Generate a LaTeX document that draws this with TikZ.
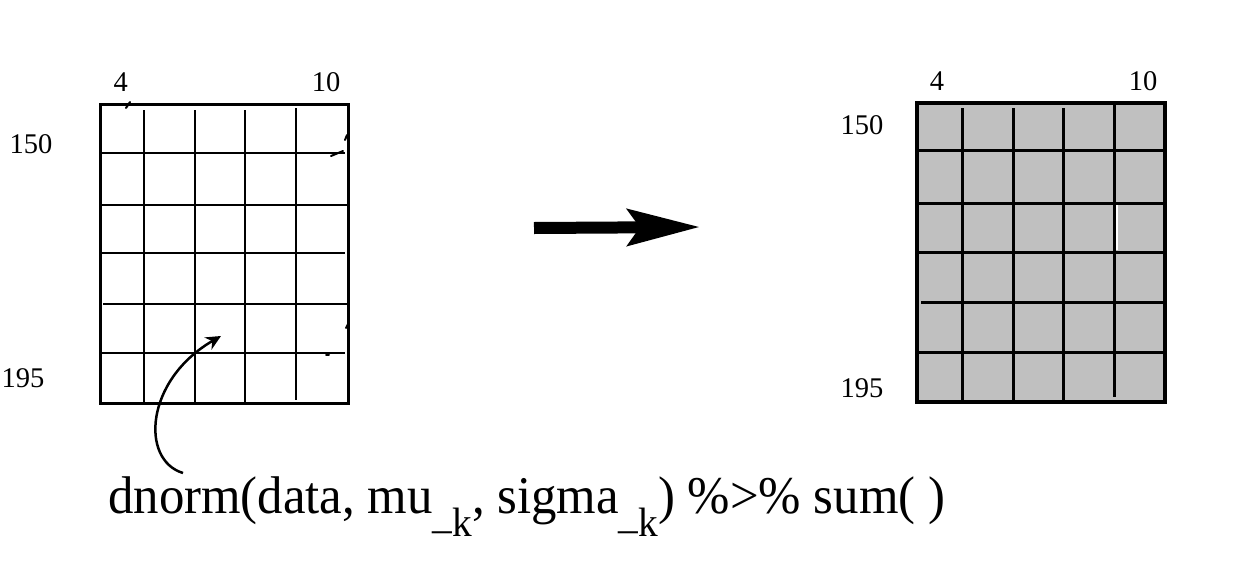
\documentclass[tikz,border=0pt]{standalone}
\usepackage{fontspec}
\setmainfont{Liberation Serif}
\usetikzlibrary{arrows.meta}
\definecolor{cellgray}{RGB}{192,192,192}
\tikzset{
  gridframe/.style={draw=black, line width=3pt},
  gridrule/.style={draw=black, line width=2.5pt},
  ticklabel/.style={font=\fontsize{28.5}{28.5}\selectfont, inner sep=0pt},
  penmark/.style={draw=black, line width=2pt, line cap=round},
  mapsto/.style={draw=black, line width=12pt,
                 -{Stealth[length=72pt, width=36pt, inset=12pt]}},
  callout/.style={draw=black, line width=2.5pt,
                  -{Stealth[length=15pt, width=14pt]}}
}

\begin{document}
\begin{tikzpicture}[
    x=1pt, y=-1pt,
    % The filled grid is drawn a little heavier than the empty one.
    shadedframe/.style={gridframe, line width=4pt},
    shadedrule/.style={gridrule, line width=3pt}
]
  \useasboundingbox (0,0) rectangle (1248,560);

  % Left: the empty grid, columns 4..10, rows 150..195.
  \foreach \x in {144,195,245} {
    \draw[gridrule] (\x,110) -- (\x,403);
  }
  \draw[gridrule] (296,108) -- (296,400);
  \draw[gridrule] (100,153) -- (345,153);
  \draw[gridrule] (100,205) -- (348,205);
  \draw[gridrule] (100,253) -- (345,253);
  \draw[gridrule] (103,304) -- (348,304);
  \draw[gridrule] (100,353) -- (345,353);
  \draw[gridframe] (100,104) rectangle (348,403);
  % stray pen strokes on its edges
  \draw[penmark] (126,108) -- (130,102);
  \draw[penmark] (331,156) -- (343,151);
  \draw[penmark] (345,140) -- (347,135);
  \draw[penmark] (346,328) -- (349,322);
  \draw[penmark] (326,355) -- (329,355);

  \node[ticklabel] (lcol4)   at (120.7,82) {4};
  \node[ticklabel] (lcol10)  at (326,82)   {10};
  \node[ticklabel] (lrow150) at (31,144)   {150};
  \node[ticklabel] (lrow195) at (23,378)   {195};

  % Right: the same grid, every cell filled.
  \fill[cellgray] (917,103) rectangle (1165,402);
  \foreach \x in {962,1013,1063} {
    \draw[shadedrule] (\x,108) -- (\x,402);
  }
  \draw[shadedrule] (1114,103) -- (1114,397);
  \foreach \y in {150,203,252,352} {
    \draw[shadedrule] (917,\y) -- (1165,\y);
  }
  \draw[shadedrule] (921,302) -- (1165,302);
  \draw[white, line width=1.2pt] (1117,205) -- (1117,250);
  \draw[shadedframe] (917,103) rectangle (1165,402);

  \node[ticklabel] (rcol4)   at (937,81)  {4};
  \node[ticklabel] (rcol10)  at (1143,81) {10};
  \node[ticklabel] (rrow150) at (862,125) {150};
  \node[ticklabel] (rrow195) at (862,388) {195};

  % The step between them.
  \coordinate (mapfrom) at (534,228);
  \coordinate (mapto)   at (700,227);
  \draw[mapsto] (mapfrom) -- (mapto);

  % What is evaluated in each cell.
  \node[anchor=base west, inner sep=0pt, font=\fontsize{53}{53}\selectfont]
    (call) at (108,513) {\resizebox{837pt}{\height}{dnorm(data,
      mu\raisebox{-23pt}{\fontsize{41}{41}\selectfont\raisebox{8pt}{\_}k},
      sigma\raisebox{-23pt}{\fontsize{41}{41}\selectfont\raisebox{8pt}{\_}k})
      \%>\% sum( )}};
  \coordinate (callstart) at (183,473);
  \coordinate (cellhit)   at (221,336);
  \draw[callout] (callstart) .. controls (140,460) and (145,380) .. (cellhit);
\end{tikzpicture}
\end{document}
